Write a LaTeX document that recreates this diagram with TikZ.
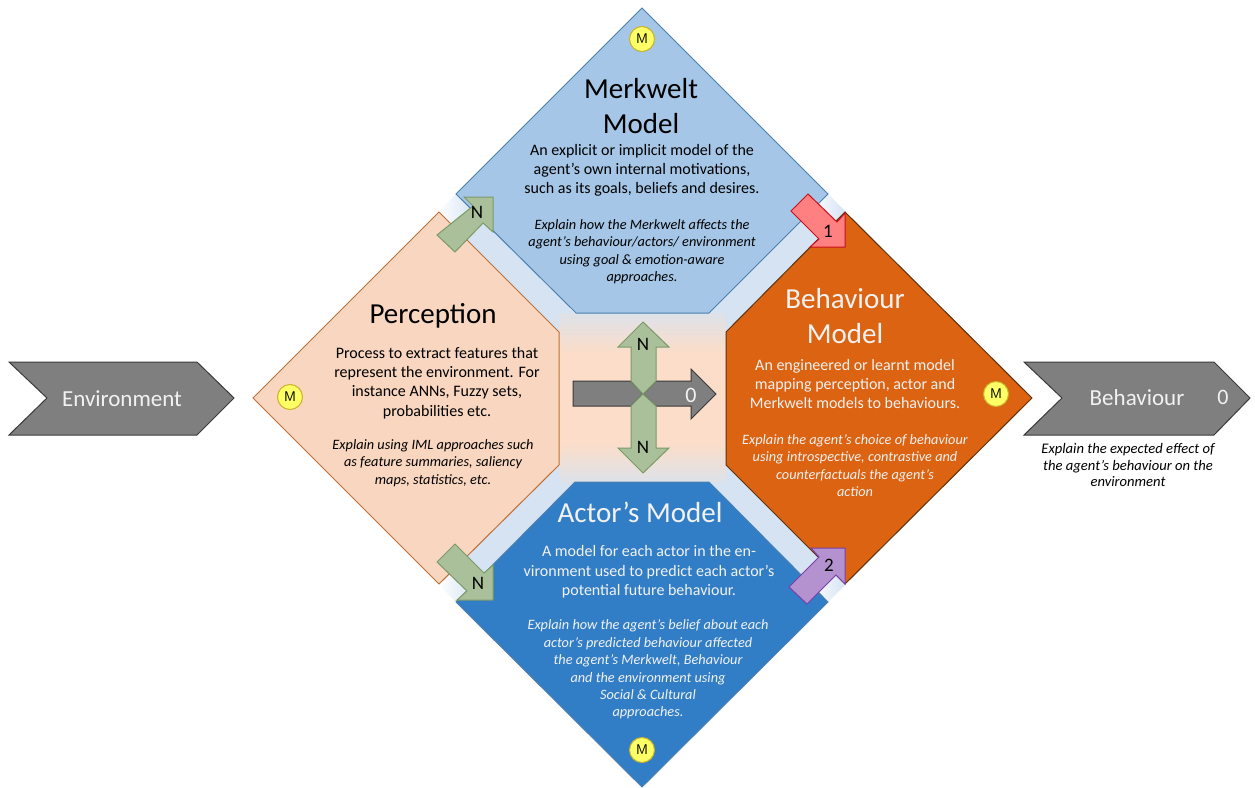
\documentclass[tikz,border=0pt]{standalone}
\usepackage{fontspec}
\setmainfont{Carlito}
\definecolor{bandblue}{HTML}{D5E3F3}
\definecolor{midpeach}{HTML}{FBDDCA}
\definecolor{midgrey}{HTML}{DDE2E9}
\definecolor{percfill}{HTML}{F8D6BF}
\definecolor{percline}{HTML}{BE6F36}
\definecolor{merkfill}{HTML}{A5C6E6}
\definecolor{merkline}{HTML}{4A7FB0}
\definecolor{actfill}{HTML}{327EC6}
\definecolor{actline}{HTML}{4A7FB0}
\definecolor{behfill}{HTML}{DB6311}
\definecolor{behline}{HTML}{5A3210}
\definecolor{nfill}{HTML}{A9C09A}
\definecolor{nline}{HTML}{7C9A68}
\definecolor{greyfill}{HTML}{7F7F7F}
\definecolor{greyline}{HTML}{3A3A3A}
\definecolor{redfill}{HTML}{FF8080}
\definecolor{redline}{HTML}{C8101C}
\definecolor{purfill}{HTML}{B492CF}
\definecolor{purline}{HTML}{7A3FA8}
\definecolor{mfill}{HTML}{FFFF66}
\definecolor{mline}{HTML}{C9B22A}
\definecolor{paletext}{HTML}{F2F2F2}
\begin{document}
\begin{tikzpicture}
[x=1pt,y=-1pt]
\tikzset{perc/.style={draw=percline,fill=percfill,line width=1pt}}
\tikzset{merk/.style={draw=merkline,fill=merkfill,line width=1pt}}
\tikzset{act/.style={draw=actline,fill=actfill,line width=1pt}}
\tikzset{beh/.style={draw=behline,fill=behfill,line width=1pt}}
\tikzset{narrow/.style={draw=nline,fill=nfill,line width=1pt}}
\tikzset{garrow/.style={draw=greyline,fill=greyfill,line width=1pt}}
\tikzset{circm/.style={circle,draw=mline,fill=mfill,line width=1pt,minimum size=25pt,inner sep=0pt,font=\sffamily\fontsize{14}{14}\selectfont}}
\tikzset{title/.style={align=center,font=\fontsize{29}{35}\selectfont}}
\tikzset{body/.style={align=center,font=\fontsize{16}{19.3}\selectfont}}
\tikzset{expl/.style={align=center,font=\itshape\fontsize{14.3}{17.4}\selectfont}}
\tikzset{lab/.style={font=\fontsize{19}{19}\selectfont}}
\useasboundingbox (0,0) rectangle (1255,787);

% bands between the four panels
\foreach \bx/\by/\ang in {447/203/-45,837/203/-135,447/593/45,837/593/135}{
	\begin{scope}[shift={(\bx,\by)},rotate=\ang]
	\shade [left color=white,right color=bandblue] (0,-12.5) rectangle (26,12.5);
	\fill [bandblue] (26,-12.5) rectangle (170,12.5);
	\end{scope}
}
\shade [top color=midgrey,bottom color=midpeach] (559,313) rectangle (726,352);
\fill [midpeach] (559,352) rectangle (726,444);
\shade [top color=midpeach,bottom color=midgrey] (559,444) rectangle (726,482);

% panels
\draw [perc] (253,398) -- (439,212) -- (559,332) -- (559,465) -- (439,584) -- cycle;
\draw [merk] (642,8) -- (828,194) -- (709,313) -- (576,313) -- (456,194) -- cycle;
\draw [act] (575,482) -- (709,482) -- (828,602) -- (642,787) -- (456,602) -- cycle;
\draw [beh] (845,212) -- (1032,398) -- (845,584) -- (726,465) -- (726,332) -- cycle;

% chevrons
\draw [garrow] (9,362) -- (197,362) -- (234,398) -- (197,435) -- (9,435) -- (47,398) -- cycle;
\draw [garrow] (1024,362) -- (1214,362) -- (1250,398) -- (1214,435) -- (1024,435) -- (1062,398) -- cycle;

% arrows at the corners
\draw [narrow] (493,197) -- (493,232) -- (483,223) -- (455,252) -- (437,235) -- (473,206) -- (464,197) -- cycle;
\draw [narrow] (493,600) -- (457,600) -- (467,591) -- (437,562) -- (455,544) -- (484,573) -- (493,565) -- cycle;
\draw [draw=redline,fill=redfill,line width=1pt] (845,247) -- (810,247) -- (819,239) -- (791,211) -- (808,194) -- (837,222) -- (845,213) -- cycle;
\draw [draw=purline,fill=purfill,line width=1pt] (845,548) -- (845,584) -- (836,575) -- (807,604) -- (789,587) -- (819,557) -- (811,548) -- cycle;

% arrows in the middle
\draw [garrow] (573,381) -- (631,381) -- (643,394) -- (631,406) -- (573,406) -- cycle;
\draw [garrow] (643,394) -- (656,381) -- (691,381) -- (691,369) -- (716,394) -- (691,419) -- (691,406) -- (656,406) -- cycle;
\draw [narrow] (643,322) -- (669,347) -- (656,347) -- (656,381) -- (643,394) -- (631,381) -- (631,347) -- (618,347) -- cycle;
\draw [narrow] (643,473) -- (618,448) -- (631,448) -- (631,406) -- (643,394) -- (656,406) -- (656,448) -- (669,448) -- cycle;

% M marks
\node [circm] (m1) at (642,39) {M};
\node [circm] (m2) at (290,397) {M};
\node [circm] (m3) at (996,394) {M};
\node [circm] (m4) at (642,750) {M};

% arrow labels
\node [lab] (n1) at (477,212) {N};
\node [lab] (n2) at (478,583) {N};
\node [lab] (n3) at (643,344) {N};
\node [lab] (n4) at (643,447) {N};
\node [lab] (one) at (828,231) {1};
\node [lab] (two) at (829,565) {2};
\node [lab,text=paletext,font=\fontsize{22}{22}\selectfont] (zero1) at (691,395) {0};
\node [lab,text=paletext,font=\fontsize{22}{22}\selectfont] (zero2) at (1223,397) {0};

% chevron texts
\node [text=paletext,font=\fontsize{23}{24}\selectfont] (env) at (122,399) {Environment};
\node [text=paletext,font=\fontsize{23}{24}\selectfont] (behv) at (1137,398) {Behaviour};
\node [expl,font=\itshape\fontsize{14.6}{16.7}\selectfont] (behvx) at (1128,465) {Explain the expected effect of\\the agent’s behaviour on the\\environment};

% Merkwelt texts
\node [title] (t1) at (641,106) {Merkwelt\\Model};
\node [body] (b1) at (642,170.5) {An explicit or implicit model of the\\agent’s own internal motivations,\\such as its goals, beliefs and desires.};
\node [expl] (x1) at (642,251.5) {Explain how the Merkwelt affects the\\agent’s behaviour/actors/ environment\\using goal \& emotion-aware\\approaches.};

% Perception texts
\node [title] (t2) at (433,316) {Perception};
\node [body] (b2) at (437,383) {Process to extract features that\\represent the environment. For\\instance ANNs, Fuzzy sets,\\probabilities etc.};
\node [expl] (x2) at (433,463) {Explain using IML approaches such\\as feature summaries, saliency\\maps, statistics, etc.};

% Behaviour texts
\node [title,text=paletext] (t3) at (845,316) {Behaviour\\Model};
\node [body,text=paletext] (b3) at (855,384) {An engineered or learnt model\\mapping perception, actor and\\Merkwelt models to behaviours.};
\node [expl,text=paletext] (x3) at (855,465.5) {Explain the agent’s choice of behaviour\\using introspective, contrastive and\\counterfactuals the agent’s\\action};

% Actor texts
\node [title,text=paletext] (t4) at (640,512) {Actor’s Model};
\node [body,text=paletext] (b4) at (649,572) {A model for each actor in the en-\\vironment used to predict each actor’s\\potential future behaviour.};
\node [expl,text=paletext] (x4) at (648,669.5) {Explain how the agent’s belief about each\\actor’s predicted behaviour affected\\the agent’s Merkwelt, Behaviour\\and the environment using\\Social \& Cultural\\approaches.};

\end{tikzpicture}
\end{document}
